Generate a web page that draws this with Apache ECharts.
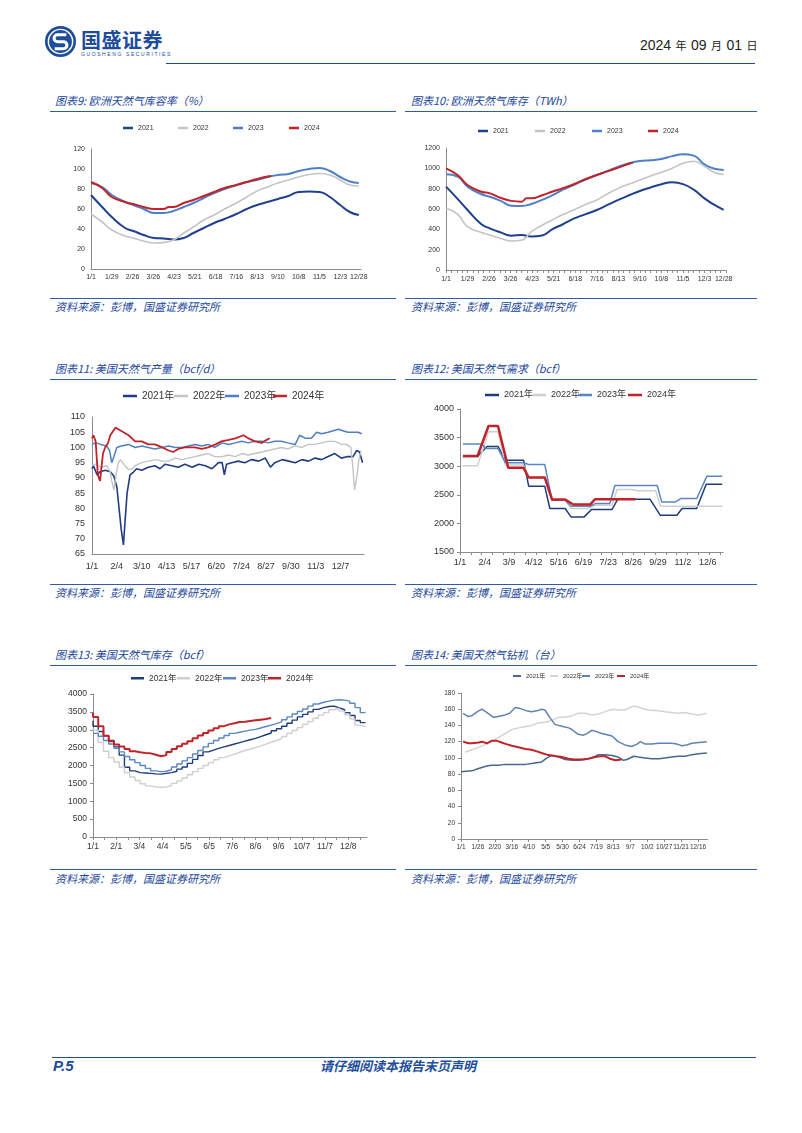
<!DOCTYPE html>
<html><head><meta charset="utf-8">
<script src="https://cdn.jsdelivr.net/npm/echarts@6/dist/echarts.min.js"></script>
<style>
body{margin:0;background:#fff;}
#page{position:relative;width:802px;height:1133px;overflow:hidden;font-family:'Noto Sans CJK SC','Liberation Sans',sans-serif;}
.title,.src{position:absolute;font-size:11px;line-height:14px;color:#22479b;font-style:italic;white-space:nowrap;font-weight:400;}
.rule{position:absolute;height:0;border-top:1.5px solid #2f5ca8;}
.chart{position:absolute;}
</style></head>
<body><div id="page">
<svg style="position:absolute;left:44px;top:25px" width="33" height="33" viewBox="0 0 34 34">
<circle cx="17" cy="17" r="16" fill="#1e4d9b"/><circle cx="17" cy="17" r="12.5" fill="none" stroke="#fff" stroke-width="1.5"/>
<path d="M23 10 H14 a3.6 3.6 0 0 0 0 7.2 H20 a3.6 3.6 0 0 1 0 7.2 H11" stroke="#fff" stroke-width="3.2" fill="none"/></svg>
<div style="position:absolute;left:81px;top:27px;font-size:20px;line-height:26px;font-weight:bold;color:#1e4d9b;letter-spacing:0.5px">国盛证券</div>
<div style="position:absolute;left:81px;top:51px;font-size:5px;line-height:6px;color:#1e4d9b;letter-spacing:1.6px;font-family:'Liberation Sans'">GUOSHENG SECURITIES</div>
<div style="position:absolute;left:640px;top:36px;line-height:18px;color:#222;white-space:nowrap;font-family:'Liberation Sans','Noto Sans CJK SC'"><span style="font-size:14px">2024</span> <span style="font-size:11px">年</span> <span style="font-size:14px">09</span> <span style="font-size:11px">月</span> <span style="font-size:14px">01</span> <span style="font-size:11px">日</span></div>
<div class="rule" style="left:166px;width:589px;top:63px;border-top-color:#1e4d9b"></div>

<div class="title" style="left:55px;top:93px">图表9: 欧洲天然气库容率（%）</div>
<div class="title" style="left:411px;top:93px">图表10: 欧洲天然气库存（TWh）</div>
<div class="rule" style="left:50px;width:346px;top:111px"></div>
<div class="rule" style="left:405px;width:352px;top:111px"></div>
<div class="rule" style="left:50px;width:346px;top:298px"></div>
<div class="rule" style="left:405px;width:352px;top:298px"></div>
<div class="src" style="left:55px;top:299px">资料来源：彭博，国盛证券研究所</div>
<div class="src" style="left:411px;top:299px">资料来源：彭博，国盛证券研究所</div>

<div class="title" style="left:55px;top:361px">图表11: 美国天然气产量（bcf/d）</div>
<div class="title" style="left:411px;top:361px">图表12: 美国天然气需求（bcf）</div>
<div class="rule" style="left:50px;width:346px;top:379px"></div>
<div class="rule" style="left:405px;width:352px;top:379px"></div>
<div class="rule" style="left:50px;width:346px;top:584px"></div>
<div class="rule" style="left:405px;width:352px;top:584px"></div>
<div class="src" style="left:55px;top:585px">资料来源：彭博，国盛证券研究所</div>
<div class="src" style="left:411px;top:585px">资料来源：彭博，国盛证券研究所</div>

<div class="title" style="left:55px;top:647px">图表13: 美国天然气库存（bcf）</div>
<div class="title" style="left:411px;top:647px">图表14: 美国天然气钻机（台）</div>
<div class="rule" style="left:50px;width:346px;top:665px"></div>
<div class="rule" style="left:405px;width:352px;top:665px"></div>
<div class="rule" style="left:50px;width:346px;top:869px"></div>
<div class="rule" style="left:405px;width:352px;top:869px"></div>
<div class="src" style="left:55px;top:871px">资料来源：彭博，国盛证券研究所</div>
<div class="src" style="left:411px;top:871px">资料来源：彭博，国盛证券研究所</div>

<div class="rule" style="left:52px;width:704px;top:1057px;border-top-color:#1e4d9b"></div>
<div style="position:absolute;left:53px;top:1057px;font-size:15px;line-height:18px;font-weight:bold;font-style:italic;color:#1e4d9b;font-family:'Liberation Sans'">P.5</div>
<div style="position:absolute;left:320px;top:1058px;font-size:13px;line-height:16px;font-weight:bold;font-style:italic;color:#1e4d9b">请仔细阅读本报告末页声明</div>

<div id="c9" class="chart" style="left:50px;top:115px;width:350px;height:180px"></div>
<div id="c10" class="chart" style="left:405px;top:115px;width:352px;height:180px"></div>
<div id="c11" class="chart" style="left:50px;top:385px;width:350px;height:195px"></div>
<div id="c12" class="chart" style="left:405px;top:385px;width:352px;height:195px"></div>
<div id="c13" class="chart" style="left:50px;top:670px;width:350px;height:195px"></div>
<div id="c14" class="chart" style="left:405px;top:670px;width:352px;height:195px"></div>
</div>
<script>
// ---------- Chart 9: EU storage fill (%) ----------
const eu9LabelDays = [0,28,56,84,112,140,168,196,224,252,280,308,336,361];
const eu9Labels = ['1/1','1/29','2/26','3/26','4/23','5/21','6/18','7/16','8/13','9/10','10/8','11/5','12/3','12/28'];
const eu9Days = [0,15,28,46,57,71,85,98,111,125,138,152,166,180,196,210,224,238,252,266,280,294,308,322,336,349,361];
const eu9Days2024 = [0,15,28,46,57,71,85,98,105,111,125,138,152,166,180,196,210,224,238,243];
const eu9_2021 = [74,62,52,41,38,34,31,30.5,29.5,31,36,41,46,50,55,60,64,67,70,73,77,77.5,77,72,64,57,54];
const eu9_2022 = [55,47,39,33,31,28,26,26.5,29,36,42,49,54,60,66,72,78,82,86,89,92,94.5,95.5,94,89,84,83];
const eu9_2023 = [86,82,74,67,64,60,56,56,58,62,66,71,76,80,84,87,89,92,94,95,98,100,101,98,92,87.5,86];
const eu9_2024 = [87,81,72,67,65,62,60,60,62,62,66,69,73,77,81,84,87,90,92.5,93];

// ---------- Chart 10: EU storage (TWh) ----------
const eu10_2021 = [820,700,590,450,410,370,338,344,330,340,400,450,505,545,590,640,690,735,777,812,843,862,845,790,705,640,592];
const eu10_2022 = [607,550,426,370,344,310,285,292,377,440,492,545,590,640,689,750,803,845,885,925,961,1000,1050,1070,1020,960,940];
const eu10_2023 = [941,918,820,745,721,680,633,630,650,690,735,790,836,885,934,975,1016,1050,1072,1080,1092,1120,1138,1125,1040,995,984];
const eu10_2024 = [1000,934,836,770,754,710,680,672,705,705,735,770,805,843,890,934,970,1007,1045,1056];

// ---------- Chart 11: US production (bcf/d) ----------
const us11LabelDays = [0,34,68,102,136,170,204,238,272,306,340];
const us11Labels = ['1/1','2/4','3/10','4/13','5/17','6/20','7/24','8/27','9/30','11/3','12/7'];
const us11d2021 = [0,2,7,11,18,25,30,34,37,40,43,45,48,52,57,61,68,77,86,93,100,109,118,127,137,146,155,164,173,178,181,184,191,200,209,218,228,237,244,250,260,269,278,287,296,305,314,323,332,341,350,357,362,366,370];
const us11v2021 = [93,94,91,92,92.5,92,90.5,87,80,73,68,75,85,91,92,93,92.5,93.5,94,93,94.5,94,93.5,94.5,93.5,94.5,94,93,95,95,91,94.5,95,95.5,95,96,95.5,96.5,93.5,95,96,95.5,95,96,95.5,96.5,96,97,98,96.5,97,97,99,98.5,95];
const us11d2022 = [0,5,12,20,25,27,30,33,36,39,45,50,55,59,68,77,87,96,105,114,123,132,141,150,159,168,178,187,196,205,214,223,232,241,250,259,268,278,287,296,305,314,323,332,341,348,354,357,359,362,365,368];
const us11v2022 = [94,94.5,93.5,94,92,89,86,91,95,96,94,92.7,93,94,95,95.5,96,95.5,95.5,96.5,96,96.5,97,97.5,98,97,97,97.5,97,98,97.5,98,98.5,99,99.5,100,99.5,100.5,100,101,101,101.5,102,102,101,101,100,93,86,90,96,99];
const us11d2023 = [0,5,12,20,24,27,30,34,40,50,59,68,77,86,96,105,114,123,132,141,150,159,168,178,187,196,205,214,223,232,241,250,259,268,278,284,292,300,307,314,323,330,337,343,350,358,364,369];
const us11v2023 = [101,101.5,101,100.5,99,95,97,100,100.5,101,100,100.5,100,99.5,100,100.5,100,100,100.5,101,100.5,101,100,101.5,101,101.5,102,101.5,102,102,101.5,102,102,101.5,101,104,103,103,105,104.5,105,105.5,106,105.5,105,105,105,104.5];
const us11d2024 = [0,2,5,8,11,15,18,22,25,32,36,43,50,59,68,77,86,96,105,111,118,127,141,150,159,169,177,187,196,207,214,223,232,239,243];
const us11v2024 = [103,104,102,91,89,98,100,101.5,104,106.5,106,105,104,102,102,101,101,100,99,98.5,99.5,100,100,99.5,100,101,102,102.5,103,104,103,102,101.5,102.5,103];

// ---------- Chart 12: US demand (bcf) ----------
const us12LabelDays = [0,34,67,101,135,169,203,237,271,305,339];
const us12Labels = ['1/1','2/4','3/9','4/12','5/16','6/19','7/23','8/26','9/29','11/2','12/6'];
const us12d2021 = [4,24,37,52,62,87,94,116,123,144,152,170,180,208,216,260,274,297,304,324,337,359];
const us12v2021 = [3170,3170,3345,3345,3106,3106,2651,2651,2260,2260,2114,2114,2242,2242,2423,2423,2143,2143,2260,2260,2686,2686];
const us12d2022 = [4,24,39,52,62,87,94,116,126,144,152,175,185,208,215,235,243,268,274,359];
const us12v2022 = [3008,3008,3603,3603,3020,3020,2800,2800,2405,2405,2260,2260,2318,2318,2593,2593,2569,2569,2300,2300];
const us12d2023 = [4,30,35,52,62,87,94,116,126,144,152,178,185,205,212,270,276,295,302,324,338,359];
const us12v2023 = [3387,3387,3311,3311,3060,3060,3030,3030,2405,2405,2300,2300,2347,2347,2663,2663,2376,2376,2435,2435,2826,2826];
const us12d2024 = [4,24,39,52,66,87,94,116,126,144,155,178,185,240];
const us12v2024 = [3177,3177,3702,3702,2972,2972,2803,2803,2417,2417,2330,2330,2423,2423];

// ---------- Chart 13: US storage (bcf), weekly ----------
const us13LabelDays = [0,31,62,93,124,155,186,217,248,279,310,341];
const us13Labels = ['1/1','2/1','3/4','4/4','5/5','6/5','7/6','8/6','9/6','10/7','11/7','12/8'];
const us13_2021 = [3250,3100,2950,2830,2700,2520,2290,1950,1850,1800,1790,1780,1765,1760,1780,1800,1840,1900,1960,2060,2170,2280,2380,2430,2480,2520,2560,2600,2640,2680,2720,2760,2810,2860,2910,2970,3030,3100,3180,3270,3360,3430,3500,3570,3620,3650,3660,3610,3560,3480,3400,3260,3200];
const us13_2022 = [3050,2990,2650,2400,2220,2100,1950,1800,1680,1580,1490,1430,1400,1390,1400,1440,1500,1570,1650,1740,1830,1920,2000,2080,2160,2220,2270,2320,2370,2420,2460,2500,2550,2600,2650,2700,2750,2810,2900,2980,3060,3150,3230,3320,3410,3480,3560,3600,3520,3420,3300,3130,3090];
const us13_2023 = [2900,2900,2820,2700,2600,2480,2380,2250,2160,2080,2000,1920,1850,1830,1840,1880,1960,2040,2130,2220,2320,2420,2520,2620,2700,2770,2840,2900,2930,2960,2990,3010,3050,3090,3130,3170,3220,3280,3360,3440,3510,3580,3660,3720,3770,3800,3830,3840,3830,3800,3740,3620,3480];
const us13_2024 = [3478,3360,3100,2830,2680,2590,2530,2460,2400,2370,2350,2340,2300,2260,2290,2380,2460,2540,2610,2680,2760,2840,2910,2980,3040,3100,3150,3180,3217,3226,3245,3264,3282,3300,3330];

// ---------- Chart 14: US gas rigs ----------
const us14LabelDays = [0,25,50,75,100,125,150,175,200,225,250,275,300,325,350];
const us14Labels = ['1/1','1/26','2/20','3/16','4/10','5/5','5/30','6/24','7/19','8/13','9/7','10/2','10/27','11/21','12/16'];
const us14d2021 = [0,16,26,38,45,55,65,85,95,104,119,127,134,144,154,164,173,183,193,203,213,223,232,240,245,255,262,272,282,292,301,311,321,331,341,351,363];
const us14v2021 = [83,84,87,90,91,91,92,92,92,93,95,100,103,101,98,97,97,98,100,104,104,103,101,97,98,102,101,100,99,99,100,101,102,102,104,105,106];
const us14d2022 = [6,16,26,35,45,55,65,75,85,92,104,114,124,134,144,154,164,173,183,193,203,213,223,232,242,252,257,267,277,292,301,311,321,331,341,351,363];
const us14v2022 = [107,110,113,116,120,125,130,135,137,138,140,143,144,146,150,150,152,155,155,153,154,157,160,159,159,163,164,161,159,158,157,156,155,156,154,153,155];
const us14d2023 = [3,11,16,26,31,40,48,55,65,72,80,87,97,104,112,119,124,131,139,149,159,164,168,173,181,186,193,198,208,223,232,242,252,260,265,272,282,292,301,311,319,326,333,341,351,363];
const us14v2023 = [155,151,152,158,160,155,150,151,153,155,162,161,158,157,158,160,159,150,141,139,137,135,132,129,128,130,134,133,130,127,120,116,114,117,120,117,117,118,118,118,117,115,116,118,119,120];
const us14d2024 = [3,11,16,26,31,38,45,53,60,67,75,85,95,104,112,119,127,134,141,149,159,168,178,188,198,205,213,220,228,237];
const us14v2024 = [120,118,118,119,120,118,121,121,119,117,115,113,111,110,108,106,104,103,102,101,99,98,98,99,101,102,102,99,97,98];

const years = ['2021','2022','2023','2024'];
const yearsN = ['2021年','2022年','2023年','2024年'];
const FONT = "'Liberation Sans','Noto Sans CJK SC',sans-serif";
const AX = '#8c8c8c';

function pairs(xs, ys){ return ys.map((y,i)=>[xs[i], y]); }
function weekly(vals){ return vals.map((v,i)=>[i*7, v]); }
function ser(name, data, color, width, extra){
  return Object.assign({type:'line', name, data, symbol:'none', showSymbol:false, silent:true, animation:false,
    lineStyle:{color, width}, itemStyle:{color}, emphasis:{disabled:true}}, extra||{});
}
function legends(names, lefts, top, iw, ih, fs){
  return names.map((n,i)=>({data:[n], left:lefts[i], top, itemWidth:iw, itemHeight:ih, icon:'rect', padding:0, itemGap:0,
    selectedMode:false, textStyle:{fontSize:fs, color:'#333', fontFamily:FONT}}));
}
function xAx(max, labelDays, labels, fs, margin, tick){
  return {type:'value', min:0, max, interval: tick && tick.interval ? tick.interval : undefined,
    axisLine:{show:true, lineStyle:{color:AX, width:1}}, splitLine:{show:false},
    axisTick: tick ? {show:true, length:3, lineStyle:{color:AX}, customValues: tick.values} : {show:false},
    axisLabel:{customValues:labelDays, formatter:(v)=>{const k=labelDays.indexOf(v); return k<0?'':labels[k];},
      fontSize:fs, color:'#333', margin, hideOverlap:false, fontFamily:FONT}};
}
function yAx(min, max, interval, fs, margin, tick){
  return {type:'value', min, max, interval, axisLine:{show:true, lineStyle:{color:AX, width:1}}, splitLine:{show:false},
    axisTick:{show:!!tick, length:3, lineStyle:{color:AX}},
    axisLabel:{fontSize:fs, color:'#333', margin, fontFamily:FONT, formatter:(v)=>String(v)}};
}
function grid(l,t,w,h){ return {left:l, top:t, width:w, height:h, containLabel:false, outerBoundsMode:'none'}; }
function mk(id, opt){ const c = echarts.init(document.getElementById(id), null, {renderer:'canvas'}); opt.animation=false; c.setOption(opt); }

const C21='#1f3f8f', C22='#c4c4c4', C23='#4f7fc6', C24='#c0232a';

mk('c9', {
  grid: grid(41,34,270,120),
  legend: legends(years, [73,128,183,239], 9.5, 10, 2.5, 7),
  xAxis: xAx(364, eu9LabelDays, eu9Labels, 7, 5, null),
  yAxis: yAx(0,120,20,7,6,false),
  series: [
    ser('2021', pairs(eu9Days, eu9_2021), C21, 2, {smooth:true}),
    ser('2022', pairs(eu9Days, eu9_2022), C22, 1.6, {smooth:true}),
    ser('2023', pairs(eu9Days, eu9_2023), C23, 2, {smooth:true}),
    ser('2024', pairs(eu9Days2024, eu9_2024), C24, 2, {smooth:true})
  ]
});

mk('c10', {
  grid: grid(41,33,280,122),
  legend: legends(years, [73,130,187,243], 12.5, 10, 2.5, 7),
  xAxis: xAx(364, eu9LabelDays, eu9Labels, 7, 6, {interval:7}),
  yAxis: yAx(0,1200,200,7,6,false),
  series: [
    ser('2021', pairs(eu9Days, eu10_2021), C21, 2, {smooth:true}),
    ser('2022', pairs(eu9Days, eu10_2022), C22, 1.6, {smooth:true}),
    ser('2023', pairs(eu9Days, eu10_2023), C23, 2, {smooth:true}),
    ser('2024', pairs(eu9Days2024, eu10_2024), C24, 2, {smooth:true})
  ]
});

mk('c11', {
  grid: grid(42,32,272,137),
  legend: legends(yearsN, [73,124,175,223], 6, 14, 2.5, 10),
  xAxis: xAx(372, us11LabelDays, us11Labels, 9, 8, null),
  yAxis: yAx(65,110,5,9,7,false),
  series: [
    ser('2021年', pairs(us11d2021, us11v2021), '#1f3c84', 1.6),
    ser('2022年', pairs(us11d2022, us11v2022), C22, 1.4),
    ser('2023年', pairs(us11d2023, us11v2023), '#4f7fc0', 1.5),
    ser('2024年', pairs(us11d2024, us11v2024), C24, 1.8)
  ]
});

const t12 = []; for (let k=0; k*14.83<=361; k++) t12.push(+(k*14.83).toFixed(2));
mk('c12', {
  grid: grid(55,24,263,143),
  legend: legends(yearsN, [80,127,173,223], 5.5, 14, 2.5, 9),
  xAxis: xAx(360, us12LabelDays, us12Labels, 9, 6, {values:t12}),
  yAxis: yAx(1500,4000,500,9,6,true),
  series: [
    ser('2021年', pairs(us12d2021, us12v2021), '#1f3c78', 1.5),
    ser('2022年', pairs(us12d2022, us12v2022), '#cfcfcf', 1.5),
    ser('2023年', pairs(us12d2023, us12v2023), '#5a86c2', 1.5),
    ser('2024年', pairs(us12d2024, us12v2024), C24, 2.5)
  ]
});

const t13 = []; for (let k=0; k*15.5<=366; k++) t13.push(k*15.5);
mk('c13', {
  grid: grid(43,24,274,143),
  legend: legends(yearsN, [81,127,173,218], 4, 13, 2.5, 8.5),
  xAxis: xAx(366, us13LabelDays, us13Labels, 8.5, 5, {values:t13}),
  yAxis: yAx(0,4000,500,8.5,6,true),
  series: [
    ser('2021年', weekly(us13_2021), '#1f3c78', 1.4, {step:'start'}),
    ser('2022年', weekly(us13_2022), '#cfcfcf', 1.4, {step:'start'}),
    ser('2023年', weekly(us13_2023), '#5a86c2', 1.4, {step:'start'}),
    ser('2024年', weekly(us13_2024), C24, 2, {step:'start'})
  ]
});

mk('c14', {
  grid: grid(56,23,246.5,146),
  legend: legends(yearsN, [108,145,177,212], 3, 8, 2, 6),
  xAxis: xAx(364, us14LabelDays, us14Labels, 6.5, 5, {values:us14LabelDays}),
  yAxis: yAx(0,180,20,6.5,6,true),
  series: [
    ser('2021年', pairs(us14d2021, us14v2021), '#456792', 1.5),
    ser('2022年', pairs(us14d2022, us14v2022), '#d4d4d4', 1.5),
    ser('2023年', pairs(us14d2023, us14v2023), '#5f83b3', 1.5),
    ser('2024年', pairs(us14d2024, us14v2024), C24, 2)
  ]
});
</script>
</body></html>
